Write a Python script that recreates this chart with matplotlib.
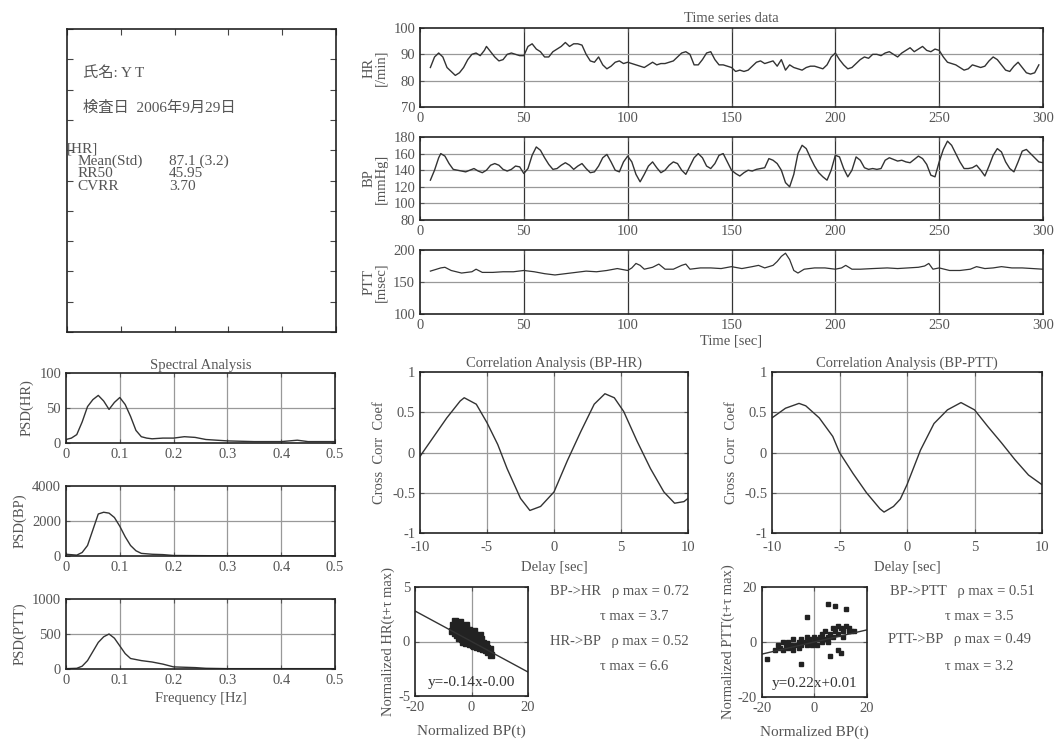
import numpy as np
import matplotlib
matplotlib.use('Agg')
import matplotlib.pyplot as plt

plt.rcParams['font.family'] = ['Liberation Serif', 'Noto Sans CJK JP', 'DejaVu Sans']
plt.rcParams['axes.unicode_minus'] = False
TXT = '#555555'
LINE = '#333333'

# ---- time series (sec) ----
hr_t = [5, 7, 9, 11, 13, 15, 17, 19, 21, 23, 25, 27, 29, 31, 32, 34, 36, 38, 40, 42, 44, 46, 48, 50,
        52, 54, 56, 58, 60, 62, 64, 66, 68, 70, 72, 74, 76, 78, 80, 82, 84, 86, 88, 90, 92, 94, 96, 98,
        100, 102, 104, 106, 108, 110, 112, 114, 116, 118, 120, 122, 124, 126, 128, 130, 132, 134, 136,
        138, 140, 142, 144, 146, 148, 150, 152, 154, 156, 158, 160, 162, 164, 166, 168, 170, 172, 174,
        176, 178, 180, 182, 184, 186, 188, 190, 192, 194, 196, 198, 200, 202, 204, 206, 208, 210, 212,
        214, 216, 218, 220, 222, 224, 226, 228, 230, 232, 234, 236, 238, 240, 242, 244, 246, 248, 250,
        252, 254, 256, 258, 260, 262, 264, 266, 268, 270, 272, 274, 276, 278, 280, 282, 284, 286, 288,
        290, 292, 294, 296, 298]
hr_v = [85, 89, 90.5, 89, 85, 83.5, 82, 83, 85, 88, 90, 90.5, 89.5, 91.5, 93, 91, 89, 87.5, 88, 90,
        90.5, 90, 89.5, 89.5, 93, 94, 92, 91, 89, 89, 91, 92, 93, 94.5, 93, 94, 94, 93.5, 90, 87.5, 87,
        89, 86, 84.5, 85.5, 87, 87.5, 86.5, 87, 86.5, 86, 85.5, 85, 86, 87, 86, 86.5, 86.5, 87, 87.5, 89,
        90.5, 91, 90, 86, 86, 88, 90.5, 91, 88, 86, 86, 85.5, 85, 83.5, 84, 83.5, 84, 85.5, 87, 87.5,
        86.5, 87, 87.5, 85.5, 88, 84, 86, 85, 84.5, 84, 85, 85.5, 85.5, 85, 84.5, 86, 89, 90.5, 88, 86,
        84.5, 85, 86.5, 88, 89, 88.5, 90, 90, 89.5, 90.5, 91, 90, 89, 90.5, 91.5, 92.5, 91, 92, 93, 91.5,
        91, 92, 91.5, 89, 87, 86.5, 86, 85, 84, 84.5, 86, 85.5, 85, 85.5, 87.5, 89, 88, 86, 84, 83.5,
        85.5, 87, 85, 83, 82.5, 83, 86]

bp_t = [5, 7, 9, 10, 12, 14, 16, 18, 20, 22, 24, 26, 28, 30, 32, 34, 36, 38, 40, 42, 44, 46, 48, 50,
        52, 54, 56, 58, 60, 62, 64, 66, 68, 70, 72, 74, 76, 78, 80, 82, 84, 86, 88, 90, 92, 94, 96, 98,
        100, 102, 104, 106, 108, 110, 112, 114, 116, 118, 120, 122, 124, 126, 128, 130, 132, 134, 136,
        138, 140, 142, 144, 146, 148, 150, 152, 154, 156, 158, 160, 162, 164, 166, 168, 170, 172, 174,
        176, 178, 180, 182, 184, 186, 188, 190, 192, 194, 196, 198, 200, 202, 204, 206, 208, 210, 212,
        214, 216, 218, 220, 222, 224, 226, 228, 230, 232, 234, 236, 238, 240, 242, 244, 246, 248, 250,
        252, 254, 256, 258, 260, 262, 264, 266, 268, 270, 272, 274, 276, 278, 280, 282, 284, 286, 288,
        290, 292, 294, 296, 298, 300]
bp_v = [128, 140, 155, 160, 157, 148, 141, 140, 139, 138, 140, 142, 139, 137, 140, 146, 148, 146, 141,
        139, 141, 145, 144, 136, 142, 158, 168, 164, 155, 147, 141, 142, 146, 149, 146, 141, 145, 148,
        142, 137, 138, 145, 155, 159, 150, 140, 138, 150, 157, 150, 135, 126, 135, 145, 150, 143, 137,
        140, 146, 150, 148, 140, 135, 145, 155, 160, 155, 145, 142, 148, 158, 160, 150, 140, 136, 133,
        137, 140, 139, 141, 142, 143, 154, 152, 148, 140, 125, 120, 135, 160, 170, 166, 155, 145, 137,
        132, 128, 140, 158, 156, 142, 132, 140, 156, 152, 143, 141, 142, 141, 142, 152, 155, 153, 151,
        152, 150, 149, 153, 157, 154, 147, 134, 132, 150, 165, 175, 170, 160, 150, 142, 142, 143, 146,
        140, 133, 145, 158, 166, 162, 150, 142, 138, 150, 163, 165, 160, 155, 150, 149]

ptt_t = [5, 10, 12, 15, 20, 25, 27, 30, 35, 40, 45, 50, 55, 60, 65, 70, 75, 80, 85, 90, 95, 100, 102,
         104, 106, 108, 112, 115, 118, 122, 126, 128, 130, 135, 140, 145, 150, 155, 160, 163, 166, 170,
         172, 174, 176, 178, 180, 182, 185, 190, 195, 200, 203, 205, 208, 212, 218, 225, 230, 235, 240,
         243, 245, 247, 250, 255, 260, 265, 268, 272, 276, 280, 285, 290, 295, 300]
ptt_v = [167, 172, 173, 168, 164, 166, 170, 165, 165, 166, 166, 168, 166, 163, 161, 163, 165, 167, 166,
         168, 171, 168, 172, 179, 176, 170, 173, 178, 170, 170, 176, 178, 170, 172, 172, 171, 174, 171,
         174, 176, 172, 176, 182, 190, 195, 185, 168, 164, 170, 172, 172, 170, 172, 176, 170, 170, 171,
         172, 171, 172, 173, 175, 179, 170, 172, 168, 168, 170, 174, 171, 172, 174, 172, 172, 171, 170]

# ---- spectra ----
f_hr = [0, 0.01, 0.02, 0.03, 0.04, 0.05, 0.06, 0.07, 0.08, 0.09, 0.10, 0.11, 0.12, 0.13, 0.14, 0.15,
        0.16, 0.18, 0.20, 0.22, 0.24, 0.26, 0.28, 0.30, 0.35, 0.40, 0.43, 0.45, 0.50]
psd_hr = [5, 7, 12, 30, 52, 62, 68, 60, 48, 58, 65, 55, 38, 18, 9, 7, 6, 7, 7, 9, 8, 5, 4, 3, 2, 2, 4, 2, 2]
f_bp = [0, 0.02, 0.03, 0.04, 0.05, 0.06, 0.07, 0.08, 0.09, 0.10, 0.11, 0.12, 0.13, 0.14, 0.16, 0.18,
        0.20, 0.30, 0.40, 0.50]
psd_bp = [100, 50, 200, 600, 1500, 2400, 2500, 2450, 2200, 1700, 1100, 600, 300, 150, 100, 80, 30, 10, 10, 10]
f_ptt = [0, 0.02, 0.03, 0.04, 0.05, 0.06, 0.07, 0.08, 0.09, 0.10, 0.11, 0.12, 0.14, 0.16, 0.18, 0.20,
         0.22, 0.24, 0.26, 0.30, 0.40, 0.50]
psd_ptt = [5, 10, 40, 120, 250, 380, 460, 500, 440, 330, 220, 150, 120, 100, 70, 30, 25, 20, 10, 5, 5, 5]

# ---- cross correlation ----
lag_hr = [-10, -9.8, -8, -7, -6.7, -5.8, -5, -4.2, -3.5, -2.5, -1.8, -1, 0, 1, 2, 3, 3.8, 4.5, 5.2,
          6.2, 7.2, 8.2, 9, 9.7, 10]
cc_hr = [-0.05, 0.0, 0.43, 0.64, 0.68, 0.6, 0.37, 0.1, -0.2, -0.57, -0.72, -0.67, -0.49, -0.1, 0.26,
         0.6, 0.73, 0.68, 0.51, 0.14, -0.2, -0.49, -0.63, -0.61, -0.57]
lag_ptt = [-10, -9, -8, -7.5, -6.5, -5.5, -5, -4, -3, -2, -1.7, -1, -0.5, 0, 1, 2, 3, 4, 5, 6, 7, 8, 9, 10]
cc_ptt = [0.43, 0.55, 0.61, 0.58, 0.43, 0.2, 0.0, -0.26, -0.5, -0.7, -0.74, -0.67, -0.58, -0.4, 0.03,
          0.36, 0.53, 0.62, 0.53, 0.32, 0.12, -0.09, -0.28, -0.4]

# ---- scatter (normalized) ----
sc1_x = [-7, -6.5, -6, -6, -5.5, -5, -5, -4.5, -4.5, -4, -4, -3.5, -3.5, -3, -3, -3, -2.5, -2.5, -2, -2,
         -2, -1.5, -1.5, -1, -1, -1, -0.5, -0.5, 0, 0, 0, 0.5, 0.5, 1, 1, 1, 1.5, 1.5, 2, 2, 2.5, 2.5, 3,
         3, 3.5, 3.5, 4, 4, 4.5, 5, 5, 5.5, 6, 6.5, 7, -5.5, -4, -2, 1, 3]
sc1_y = [1.0, 1.5, 0.8, 1.9, 1.2, 0.6, 1.6, 1.0, 0.3, 1.3, 0.5, 0.9, 0.2, 1.4, 0.6, 0.0, 1.0, 0.3, 0.7,
         -0.1, 1.2, 0.4, 0.9, 0.1, 0.6, 1.1, 0.3, -0.2, 0.5, 0.0, 0.9, -0.3, 0.4, 0.2, -0.4, 0.7, -0.1,
         0.3, -0.5, 0.1, -0.2, 0.4, -0.6, 0.0, -0.3, 0.2, -0.7, -0.1, -0.4, -0.8, -0.2, -0.6, -1.0, -0.7,
         -1.2, 1.7, 1.8, 1.5, 1.0, 0.6]
sc2_x = [-15, -14, -13, -12, -12, -11, -10, -10, -9, -8, -8, -7, -6, -6, -5, -5, -4, -3, -3, -2, -2, -1,
         0, 0, 1, 1, 2, 3, 3, 4, 4, 5, 5, 6, 7, 7, 8, 9, 9, 10, 11, 12, 13, 14, 15, -18, -5, -3, 5, 8, 12,
         10, 6, 13, 9, 11]
sc2_y = [-3, -1, -2, 0, -3, -1, -2, 0, -1, -3, 1, -1, 0, -2, 1, -1, 0, -1, 2, 0, 1, -1, 0, 2, 1, -1, 2,
         0, 3, 1, 4, 2, 0, 3, 2, 5, 4, 3, 6, 5, 4, 6, 5, 4, 4, -6, -8, 9, 14, 13, 12, -4, -5, 4, -3, 2]
fit1 = (-0.14, 0.00)
fit2 = (0.22, 0.01)

W, H = 1054, 749
fig = plt.figure(figsize=(W / 100, H / 100), dpi=100)


def box(l, t, r, b):
    return [l / W, 1 - b / H, (r - l) / W, (b - t) / H]


def style(ax, xt, yt, xl, yl, xlab=None, ylab=None, vgrid='#999999'):
    ax.set_xlim(xl)
    ax.set_ylim(yl)
    ax.set_xticks(xt)
    ax.set_yticks(yt)
    if xlab is not None:
        ax.set_xticklabels(xlab)
    if ylab is not None:
        ax.set_yticklabels(ylab)
    ax.tick_params(direction='in', top=True, right=True, labelsize=10.5, colors=TXT, length=3)
    for v in xt[1:-1]:
        ax.axvline(v, color=vgrid, lw=0.9, zorder=0)
    for v in yt[1:-1]:
        ax.axhline(v, color='#999999', lw=0.9, zorder=0)
    for s in ax.spines.values():
        s.set_color('#222222')
        s.set_linewidth(1.2)


# info box
ax0 = fig.add_axes(box(67, 29, 336, 332))
ax0.set_xlim(0, 1)
ax0.set_ylim(0, 1)
ax0.set_xticks(np.arange(0, 1.01, 0.2))
ax0.set_yticks(np.arange(0, 1.01, 0.1))
ax0.tick_params(direction='in', top=True, right=True, length=4, color='#444444',
                labelbottom=False, labelleft=False)
for s in ax0.spines.values():
    s.set_color('#222222')
    s.set_linewidth(1.2)
kw = dict(transform=ax0.transAxes, color=TXT, fontsize=11, va='center')
ax0.text(0.06, 0.855, '氏名: Y T', **kw)
ax0.text(0.06, 0.74, '検査日  2006年9月29日', **kw)
ax0.text(0.0, 0.605, '[HR]', **kw)
rows = [('Mean(Std)', '87.1 (3.2)'), ('RR50', '45.95'), ('CVRR', '3.70')]
for i, (a, b) in enumerate(rows):
    ax0.text(0.04, 0.565 - i * 0.043, a, **kw)
    ax0.text(0.38, 0.565 - i * 0.043, b, **kw)

# time series
tx = [0, 50, 100, 150, 200, 250, 300]
ax1 = fig.add_axes(box(420, 28, 1043, 107))
ax1.plot(hr_t, hr_v, color=LINE, lw=1)
style(ax1, tx, [70, 80, 90, 100], (0, 300), (70, 100), vgrid='#333333')
ax1.set_ylabel('HR\n[/min]', color=TXT, fontsize=10.5, linespacing=0.9)
ax1.set_title('Time series data', color=TXT, fontsize=10.5, pad=4)

ax2 = fig.add_axes(box(420, 137, 1043, 220))
ax2.plot(bp_t, bp_v, color=LINE, lw=1)
style(ax2, tx, [80, 100, 120, 140, 160, 180], (0, 300), (80, 180), vgrid='#333333')
ax2.set_ylabel('BP\n[mmHg]', color=TXT, fontsize=10.5, linespacing=0.9)

ax3 = fig.add_axes(box(420, 250, 1043, 314))
ax3.plot(ptt_t, ptt_v, color=LINE, lw=0.9)
style(ax3, tx, [100, 150, 200], (0, 300), (100, 200), vgrid='#333333')
ax3.set_ylabel('PTT\n[msec]', color=TXT, fontsize=10.5, linespacing=0.9)
ax3.set_xlabel('Time [sec]', color=TXT, fontsize=10.5, labelpad=2)

# spectra
fx = [0, 0.1, 0.2, 0.3, 0.4, 0.5]
fl = ['0', '0.1', '0.2', '0.3', '0.4', '0.5']
ax4 = fig.add_axes(box(66, 373, 335, 443))
ax4.plot(f_hr, psd_hr, color=LINE, lw=1)
style(ax4, fx, [0, 50, 100], (0, 0.5), (0, 100), xlab=fl)
ax4.set_ylabel('PSD(HR)', color=TXT, fontsize=10.5)
ax4.set_title('Spectral Analysis', color=TXT, fontsize=10.5, pad=3)

ax5 = fig.add_axes(box(66, 486, 335, 556))
ax5.plot(f_bp, psd_bp, color=LINE, lw=1)
style(ax5, fx, [0, 2000, 4000], (0, 0.5), (0, 4000), xlab=fl)
ax5.set_ylabel('PSD(BP)', color=TXT, fontsize=10.5)

ax6 = fig.add_axes(box(66, 599, 335, 669))
ax6.plot(f_ptt, psd_ptt, color=LINE, lw=1)
style(ax6, fx, [0, 500, 1000], (0, 0.5), (0, 1000), xlab=fl)
ax6.set_ylabel('PSD(PTT)', color=TXT, fontsize=10.5)
ax6.set_xlabel('Frequency [Hz]', color=TXT, fontsize=10.5, labelpad=4)

# correlation
cx = [-10, -5, 0, 5, 10]
cy = [-1, -0.5, 0, 0.5, 1]
cyl = ['-1', '-0.5', '0', '0.5', '1']
ax7 = fig.add_axes(box(420, 372, 688, 533))
ax7.plot(lag_hr, cc_hr, color=LINE, lw=1)
style(ax7, cx, cy, (-10, 10), (-1, 1), ylab=cyl)
ax7.tick_params(axis='x', pad=6)
ax7.set_ylabel('Cross  Corr  Coef', color=TXT, fontsize=10.5)
ax7.set_xlabel('Delay [sec]', color=TXT, fontsize=10.5, labelpad=5)
ax7.set_title('Correlation Analysis (BP-HR)', color=TXT, fontsize=10.5, pad=4)

ax8 = fig.add_axes(box(772, 372, 1042, 533))
ax8.plot(lag_ptt, cc_ptt, color=LINE, lw=1)
style(ax8, cx, cy, (-10, 10), (-1, 1), ylab=cyl)
ax8.tick_params(axis='x', pad=6)
ax8.set_ylabel('Cross  Corr  Coef', color=TXT, fontsize=10.5)
ax8.set_xlabel('Delay [sec]', color=TXT, fontsize=10.5, labelpad=5)
ax8.set_title('Correlation Analysis (BP-PTT)', color=TXT, fontsize=10.5, pad=4)

# scatter plots
lx = np.array([-20, 20])
ax9 = fig.add_axes(box(415, 587, 528, 696))
ax9.plot(sc1_x, sc1_y, 's', color='#222222', ms=4)
ax9.plot(lx, fit1[0] * lx + fit1[1], color=LINE, lw=1)
style(ax9, [-20, 0, 20], [-5, 0, 5], (-20, 20), (-5, 5))
ax9.text(0, -4.1, 'y=-0.14x-0.00', ha='center', color='#333333', fontsize=11)
ax9.set_ylabel('Normalized HR(t+τ max)', color=TXT, fontsize=10.5, labelpad=2)
ax9.set_xlabel('Normalized BP(t)', color=TXT, fontsize=11, labelpad=8)

ax10 = fig.add_axes(box(762, 587, 867, 697))
ax10.plot(sc2_x, sc2_y, 's', color='#222222', ms=3)
ax10.plot(lx, fit2[0] * lx + fit2[1], color=LINE, lw=1)
style(ax10, [-20, 0, 20], [-20, 0, 20], (-20, 20), (-20, 20))
ax10.text(0, -16.5, 'y=0.22x+0.01', ha='center', color='#333333', fontsize=11)
ax10.set_ylabel('Normalized PTT(t+τ max)', color=TXT, fontsize=10.5, labelpad=2)
ax10.set_xlabel('Normalized BP(t)', color=TXT, fontsize=11, labelpad=8)

tk = dict(color=TXT, fontsize=10.5)
fig.text(550 / W, 1 - 595 / H, 'BP->HR   ρ max = 0.72', **tk)
fig.text(600 / W, 1 - 620 / H, 'τ max = 3.7', **tk)
fig.text(550 / W, 1 - 645 / H, 'HR->BP   ρ max = 0.52', **tk)
fig.text(600 / W, 1 - 670 / H, 'τ max = 6.6', **tk)
fig.text(890 / W, 1 - 595 / H, 'BP->PTT   ρ max = 0.51', **tk)
fig.text(945 / W, 1 - 620 / H, 'τ max = 3.5', **tk)
fig.text(888 / W, 1 - 643 / H, 'PTT->BP   ρ max = 0.49', **tk)
fig.text(945 / W, 1 - 670 / H, 'τ max = 3.2', **tk)

fig.savefig('out.png', dpi=100)
